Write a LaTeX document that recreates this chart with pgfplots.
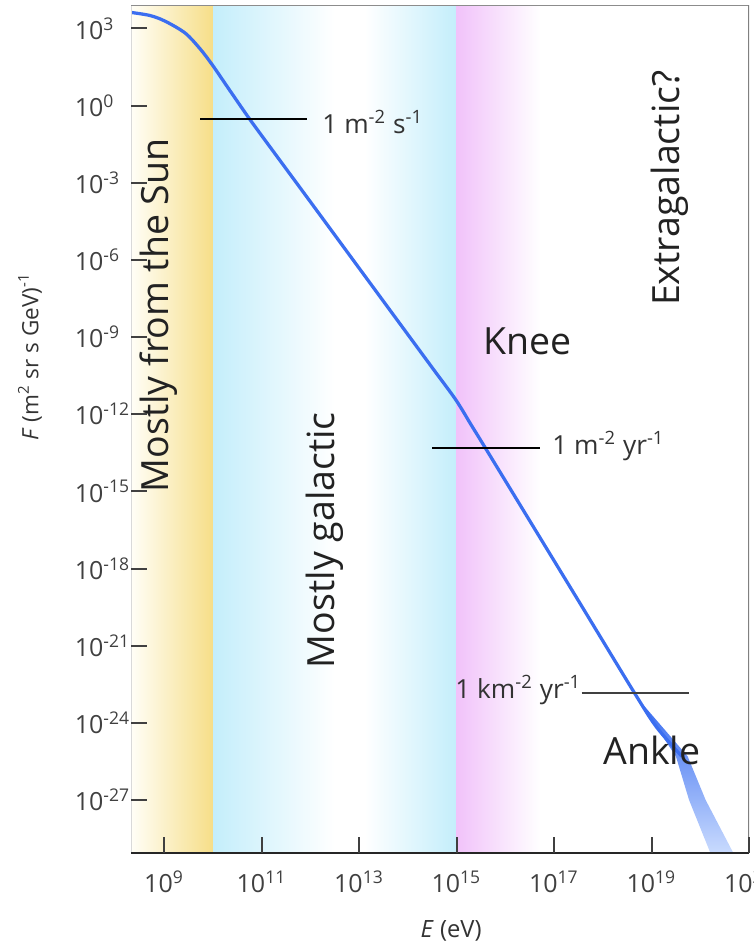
\documentclass[border=0pt]{standalone}
\usepackage{fontspec}
\setmainfont{Open Sans}
\usepackage{pgfplots}
\pgfplotsset{compat=1.18}
\definecolor{sunL}{HTML}{FFFEF7}
\definecolor{sunR}{HTML}{F6DE88}
\definecolor{cyanB}{HTML}{C4EEFB}
\definecolor{pinkB}{HTML}{F1C2FA}
\definecolor{curveC}{HTML}{3B6EF0}
\definecolor{bandlo}{HTML}{D4E3FF}
\definecolor{txt}{HTML}{222222}
\begin{document}
\begin{tikzpicture}
\begin{axis}[
  scale only axis, width=247.2pt, height=339.2pt,
  xmode=log, ymode=log,
  xmin=2.09e8, xmax=1e21, ymin=8.7e-30, ymax=8.1e3,
  axis line style={draw=none},
  axis on top,
  xminorticks=false, yminorticks=false,
  xtick={1e9,1e11,1e13,1e15,1e17,1e19,1e21},
  xticklabels={10\textsuperscript{9},10\textsuperscript{11},10\textsuperscript{13},10\textsuperscript{15},10\textsuperscript{17},10\textsuperscript{19},10\textsuperscript{21}},
  ytick={1e3,1e0,1e-3,1e-6,1e-9,1e-12,1e-15,1e-18,1e-21,1e-24,1e-27},
  yticklabels={10\textsuperscript{3},10\textsuperscript{0},10\textsuperscript{-3},10\textsuperscript{-6},10\textsuperscript{-9},10\textsuperscript{-12},10\textsuperscript{-15},10\textsuperscript{-18},10\textsuperscript{-21},10\textsuperscript{-24},10\textsuperscript{-27}},
  tick align=inside, xtick pos=bottom, ytick pos=left,
  major tick length=6.4pt,
  tick style={black!75, line width=0.8pt},
  tick label style={font=\fontsize{10}{12}\selectfont, text=black!75},
  xticklabel style={yshift=-3.5pt},
  yticklabel style={anchor=west, xshift=-26pt},
]
% background bands
\fill[left color=sunL, right color=sunR] (rel axis cs:0,0) rectangle (rel axis cs:0.1327,1);
\fill[left color=cyanB, right color=white] (rel axis cs:0.1327,0) rectangle (rel axis cs:0.330,1);
\fill[left color=white, right color=cyanB] (rel axis cs:0.378,0) rectangle (rel axis cs:0.526,1);
\fill[left color=pinkB, right color=white] (rel axis cs:0.526,0) rectangle (rel axis cs:0.662,1);

% widening tail of the spectrum
\addplot[draw=none, top color=curveC, bottom color=bandlo] coordinates {
 (6.17e18,5.01e-24) (3.16e19,5.01e-26) (5.89e19,1.0e-27) (2.0e20,3.16e-30)
 (6.31e20,3.16e-30) (1.29e20,1.0e-27) (5.50e19,5.01e-26) (6.76e18,5.01e-24)
} -- cycle;
% spectrum
\addplot[curveC, line width=1.3pt, smooth] coordinates {
 (2.09e8,4.17e3) (5.13e8,3.16e3) (1.05e9,1.9e3) (2.69e9,6.61e2) (5.50e9,1.58e2)
 (1.0e10,35.5) (2.24e10,3.8) (5.75e10,0.288) (1.86e11,1.38e-2) (6.17e11,6.31e-4)
 (3.16e12,9.33e-6) (3.16e13,2.45e-8) (3.16e14,6.46e-11) (9.55e14,3.72e-12)
 (2.0e15,3.8e-13) (3.80e15,5.25e-14) (3.16e16,7.24e-17) (3.16e17,5.62e-20)
 (4.47e18,1.45e-23) (1.26e19,6.92e-25) (4.17e19,5.01e-26)
};

% flux reference lines
\addplot[black, line width=0.8pt] coordinates {(5.5e9,0.288) (8.5e11,0.288)};
\addplot[black, line width=0.8pt] coordinates {(3.16e14,5.0e-14) (5.1e16,5.0e-14)};
\addplot[black!75, line width=0.8pt] coordinates {(3.7e17,1.45e-23) (5.9e19,1.45e-23)};

\node[anchor=west, text=black!80, font=\fontsize{10.5}{12}\selectfont, inner sep=0pt] at (rel axis cs:0.309,0.862) {1 m\textsuperscript{-2} s\textsuperscript{-1}};
\node[anchor=west, text=black!80, font=\fontsize{10.5}{12}\selectfont, inner sep=0pt] at (rel axis cs:0.681,0.480) {1 m\textsuperscript{-2} yr\textsuperscript{-1}};
\node[anchor=west, text=black!80, font=\fontsize{10.5}{12}\selectfont, inner sep=0pt] at (rel axis cs:0.524,0.192) {1 km\textsuperscript{-2} yr\textsuperscript{-1}};

\node[rotate=90, text=txt, font=\fontsize{15}{18}\selectfont] at (rel axis cs:0.044,0.634) {Mostly from the Sun};
\node[rotate=90, text=txt, font=\fontsize{15}{18}\selectfont] at (rel axis cs:0.314,0.369) {Mostly galactic};
\node[rotate=90, text=txt, font=\fontsize{15}{18}\selectfont] at (rel axis cs:0.872,0.784) {Extragalactic?};
\node[text=txt, font=\fontsize{15}{18}\selectfont] at (rel axis cs:0.641,0.603) {Knee};
\node[text=txt, font=\fontsize{15}{18}\selectfont] at (rel axis cs:0.843,0.121) {Ankle};

% frame
\draw[black!15, line width=0.5pt] (rel axis cs:0,0) -- (rel axis cs:0,1);
\draw[black!45, line width=0.8pt] (rel axis cs:0,1) -- (rel axis cs:1,1);
\draw[black!50, line width=1.2pt] (rel axis cs:1,1) -- (rel axis cs:1,0);
\draw[black!85, line width=0.9pt] (rel axis cs:0,0) -- (rel axis cs:1,0);

\coordinate (SW) at (rel axis cs:0,0);
\coordinate (NE) at (rel axis cs:1,1);
\coordinate (YL) at (rel axis cs:0,0.585);
\coordinate (XL) at (rel axis cs:0.518,0);
\end{axis}
\node[rotate=90, text=black!80, font=\fontsize{9}{11}\selectfont] at ([xshift=-40.4pt]YL) {\textit{F} (m\textsuperscript{2} sr s GeV)\textsuperscript{-1}};
\node[text=black!80, font=\fontsize{9.5}{11}\selectfont] at ([yshift=-31.2pt]XL) {\textit{E} (eV)};
\pgfresetboundingbox
\path[use as bounding box] ([xshift=-52.4pt,yshift=-36.8pt]SW) rectangle ([xshift=2pt,yshift=2pt]NE);
\end{tikzpicture}
\end{document}
